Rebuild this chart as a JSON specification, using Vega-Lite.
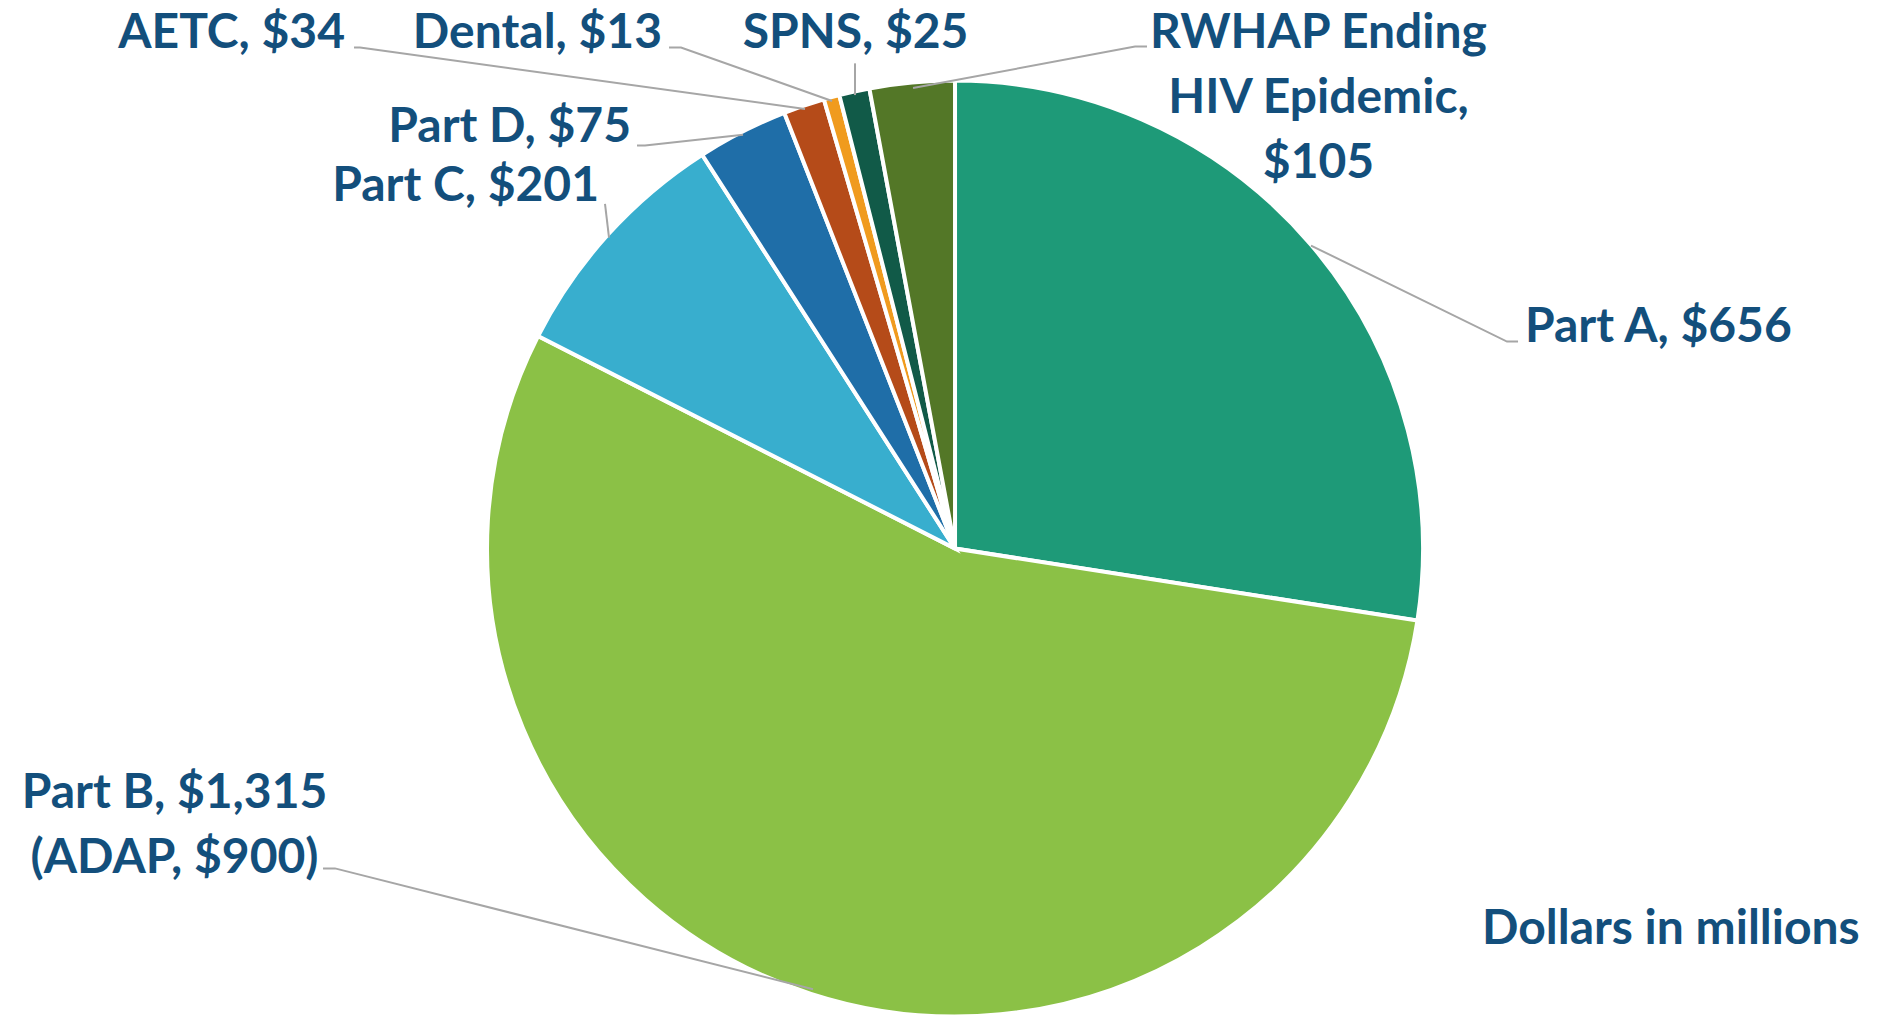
{
  "$schema": "https://vega.github.io/schema/vega-lite/v6.json",
  "width": 1888,
  "height": 1020,
  "autosize": {"type": "fit", "contains": "padding"},
  "padding": 0,
  "background": "white",
  "config": {"view": {"stroke": null}},
  "datasets": {
    "slices": [
      {"name": "Part A", "value": 656, "idx": 1},
      {"name": "Part B", "value": 1315, "idx": 2},
      {"name": "Part C", "value": 201, "idx": 3},
      {"name": "Part D", "value": 75, "idx": 4},
      {"name": "AETC", "value": 34, "idx": 5},
      {"name": "Dental", "value": 13, "idx": 6},
      {"name": "SPNS", "value": 25, "idx": 7},
      {"name": "RWHAP Ending HIV Epidemic", "value": 70, "idx": 8}
    ],
    "leaders": [
      {"id": "AETC", "p": 1, "u": -128.97, "v": 108.58},
      {"id": "AETC", "p": 2, "u": -127.68, "v": 108.58},
      {"id": "AETC", "p": 3, "u": -32.19, "v": 95.28},
      {"id": "Dental", "p": 1, "u": -61.37, "v": 108.58},
      {"id": "Dental", "p": 2, "u": -58.80, "v": 108.58},
      {"id": "Dental", "p": 3, "u": -26.39, "v": 97.00},
      {"id": "SPNS", "p": 1, "u": -21.46, "v": 105.15},
      {"id": "SPNS", "p": 2, "u": -21.46, "v": 98.28},
      {"id": "RWHAP", "p": 1, "u": 41.20, "v": 108.80},
      {"id": "RWHAP", "p": 2, "u": 38.63, "v": 108.80},
      {"id": "RWHAP", "p": 3, "u": -9.01, "v": 99.79},
      {"id": "Part A", "p": 1, "u": 120.82, "v": 44.85},
      {"id": "Part A", "p": 2, "u": 118.45, "v": 44.85},
      {"id": "Part A", "p": 3, "u": 76.39, "v": 65.67},
      {"id": "Part D", "p": 1, "u": -68.24, "v": 87.34},
      {"id": "Part D", "p": 2, "u": -66.52, "v": 87.34},
      {"id": "Part D", "p": 3, "u": -45.49, "v": 89.70},
      {"id": "Part C", "p": 1, "u": -75.11, "v": 74.68},
      {"id": "Part C", "p": 2, "u": -74.25, "v": 67.38},
      {"id": "Part B", "p": 1, "u": -135.62, "v": -69.31},
      {"id": "Part B", "p": 2, "u": -133.05, "v": -69.31},
      {"id": "Part B", "p": 3, "u": -30.47, "v": -95.49}
    ],
    "labels": [
      {"t": "AETC, $34", "u": -130.90, "v": 108.58, "anchor": "right"},
      {"t": "Dental, $13", "u": -62.88, "v": 108.58, "anchor": "right"},
      {"t": "Part D, $75", "u": -69.53, "v": 88.20, "anchor": "right"},
      {"t": "Part C, $201", "u": -76.39, "v": 75.32, "anchor": "right"},
      {"t": "SPNS, $25", "u": -21.35, "v": 108.58, "anchor": "center"},
      {"t": ["RWHAP Ending", "HIV Epidemic,", "$105"], "u": 78.00, "v": 108.58, "anchor": "center"},
      {"t": ["Part B, $1,315", "(ADAP, $900)"], "u": -167.49, "v": -56.22, "anchor": "center"},
      {"t": "Part A, $656", "u": 122.32, "v": 44.85, "anchor": "left"},
      {"t": "Dollars in millions", "u": 113.09, "v": -85.62, "anchor": "left"}
    ]
  },
  "layer": [
    {
      "data": {"name": "slices"},
      "mark": {"type": "arc", "outerRadius": 468, "stroke": "white", "strokeWidth": 4},
      "encoding": {
        "x": {"datum": 0, "type": "quantitative", "scale": {"domain": [-204.94, 200.21], "nice": false, "zero": false}, "axis": null},
        "y": {"datum": 0, "type": "quantitative", "scale": {"domain": [-100, 118.88], "nice": false, "zero": false}, "axis": null},
        "theta": {"field": "value", "type": "quantitative", "stack": true},
        "order": {"field": "idx", "type": "quantitative"},
        "color": {
          "field": "name", "type": "nominal", "legend": null,
          "scale": {
            "domain": ["Part A", "Part B", "Part C", "Part D", "AETC", "Dental", "SPNS", "RWHAP Ending HIV Epidemic"],
            "range": ["#1E9A78", "#8BC146", "#38AECE", "#1F6EA8", "#B54B19", "#F09B1E", "#115A48", "#537727"]
          }
        }
      }
    },
    {
      "data": {"name": "leaders"},
      "mark": {"type": "line", "stroke": "#A6A6A6", "strokeWidth": 2},
      "encoding": {
        "x": {"field": "u", "type": "quantitative", "axis": null},
        "y": {"field": "v", "type": "quantitative", "axis": null},
        "detail": {"field": "id", "type": "nominal"},
        "order": {"field": "p", "type": "quantitative"}
      }
    },
    {
      "data": {"name": "labels"},
      "transform": [{"filter": "datum.anchor === 'right'"}],
      "mark": {"type": "text", "align": "right", "baseline": "alphabetic", "font": "Lato", "fontWeight": "bold", "fontSize": 48, "fill": "#134F7C", "lineHeight": 65},
      "encoding": {
        "x": {"field": "u", "type": "quantitative", "axis": null},
        "y": {"field": "v", "type": "quantitative", "axis": null},
        "text": {"field": "t", "type": "nominal"}
      }
    },
    {
      "data": {"name": "labels"},
      "transform": [{"filter": "datum.anchor === 'center'"}],
      "mark": {"type": "text", "align": "center", "baseline": "alphabetic", "font": "Lato", "fontWeight": "bold", "fontSize": 48, "fill": "#134F7C", "lineHeight": 65},
      "encoding": {
        "x": {"field": "u", "type": "quantitative", "axis": null},
        "y": {"field": "v", "type": "quantitative", "axis": null},
        "text": {"field": "t", "type": "nominal"}
      }
    },
    {
      "data": {"name": "labels"},
      "transform": [{"filter": "datum.anchor === 'left'"}],
      "mark": {"type": "text", "align": "left", "baseline": "alphabetic", "font": "Lato", "fontWeight": "bold", "fontSize": 48, "fill": "#134F7C", "lineHeight": 65},
      "encoding": {
        "x": {"field": "u", "type": "quantitative", "axis": null},
        "y": {"field": "v", "type": "quantitative", "axis": null},
        "text": {"field": "t", "type": "nominal"}
      }
    }
  ]
}
